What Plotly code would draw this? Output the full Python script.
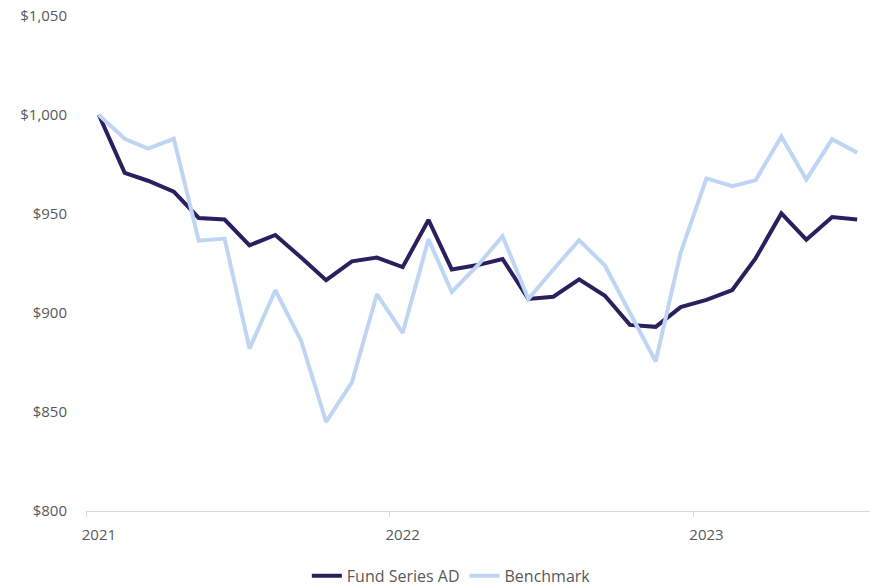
import plotly.graph_objects as go

# Monthly values, Jan 2021 – Jul 2023 (growth of $1,000)
months = [
    "2021-01-01", "2021-02-01", "2021-03-01", "2021-04-01", "2021-05-01",
    "2021-06-01", "2021-07-01", "2021-08-01", "2021-09-01", "2021-10-01",
    "2021-11-01", "2021-12-01", "2022-01-01", "2022-02-01", "2022-03-01",
    "2022-04-01", "2022-05-01", "2022-06-01", "2022-07-01", "2022-08-01",
    "2022-09-01", "2022-10-01", "2022-11-01", "2022-12-01", "2023-01-01",
    "2023-02-01", "2023-03-01", "2023-04-01", "2023-05-01", "2023-06-01",
    "2023-07-01",
]

fund_series_ad = [
    1000.0, 970.8, 966.8, 961.3, 948.0, 947.2, 934.2, 939.4, 928.0, 916.6,
    926.1, 928.0, 923.2, 947.0, 922.0, 924.2, 927.3, 907.1, 908.2, 917.0,
    908.7, 894.0, 893.0, 903.0, 906.6, 911.6, 927.6, 950.3, 937.0, 948.5,
    947.2,
]

benchmark = [
    1000.0, 988.0, 983.0, 988.0, 936.5, 937.6, 882.0, 911.5, 886.0, 845.0,
    865.0, 909.5, 890.0, 937.2, 910.6, 924.0, 938.8, 907.1, 922.0, 936.8,
    924.0, 900.0, 875.5, 930.5, 968.0, 964.0, 967.0, 989.2, 967.4, 987.8,
    981.0,
]

year_ticks = ["2021-01-01", "2022-01-01", "2023-01-01"]
year_labels = ["2021", "2022", "2023"]
# year boundaries sit half a month before each January point
boundary_ticks = ["2020-12-16 12:00", "2021-12-16 12:00", "2022-12-16 12:00"]
x_range = ["2020-12-16 12:00", "2023-07-16 12:00"]

FUND_COLOR = "#2c1f5e"
BENCH_COLOR = "#bed6f4"
TEXT_COLOR = "#595959"
AXIS_COLOR = "#d9d9d9"
FONT = "Open Sans, Lato, sans-serif"

fig = go.Figure()
fig.add_trace(go.Scatter(
    x=months, y=fund_series_ad, mode="lines", name="Fund Series AD",
    line=dict(color=FUND_COLOR, width=4),
))
fig.add_trace(go.Scatter(
    x=months, y=benchmark, mode="lines", name="Benchmark",
    line=dict(color=BENCH_COLOR, width=4),
))

fig.update_layout(
    width=876, height=588,
    margin=dict(l=86, r=6, t=16, b=77, autoexpand=False),
    paper_bgcolor="white", plot_bgcolor="white",
    font=dict(family=FONT, size=15, color=TEXT_COLOR),
    showlegend=True,
    legend=dict(
        orientation="h", x=0.466, xanchor="center", y=-0.131, yanchor="middle",
        font=dict(size=16, color=TEXT_COLOR), itemwidth=30,
        traceorder="normal", tracegroupgap=0,
    ),
)

fig.update_xaxes(
    type="date", range=x_range,
    tickmode="array", tickvals=year_ticks, ticktext=year_labels,
    tickangle=0,
    ticks="outside", ticklen=5, tickcolor="rgba(0,0,0,0)", tickwidth=1,
    minor=dict(
        tickmode="array", tickvals=boundary_ticks,
        ticks="outside", ticklen=5, tickcolor=AXIS_COLOR, tickwidth=1,
        showgrid=False,
    ),
    showline=True, linecolor=AXIS_COLOR, linewidth=1,
    showgrid=False, zeroline=False,
    tickfont=dict(size=15, color=TEXT_COLOR),
    ticklabelstandoff=5, automargin=False,
)

fig.update_yaxes(
    range=[800, 1050], dtick=50, tick0=800,
    tickprefix="$", tickformat=",.0f",
    showgrid=False, zeroline=False, showline=False,
    ticks="", ticklabelstandoff=18, automargin=False,
    tickfont=dict(size=15, color=TEXT_COLOR),
)

fig.write_html("out.html")
